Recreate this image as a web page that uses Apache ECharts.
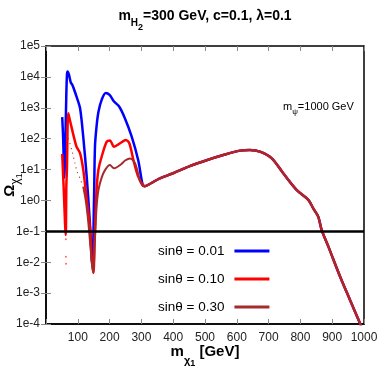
<!DOCTYPE html>
<html>
<head>
<meta charset="utf-8">
<script src="https://cdn.jsdelivr.net/npm/echarts@6/dist/echarts.min.js"></script>
<style>html,body{margin:0;padding:0;background:#fff}#c{width:382px;height:382px}</style>
</head>
<body>
<div id="c"></div>
<script>
// ---- data ----
const legendNames = ['sinθ = 0.01', 'sinθ = 0.10', 'sinθ = 0.30'];
const xTicks = [100, 200, 300, 400, 500, 600, 700, 800, 900, 1000];
const yTickExponents = [-4, -3, -2, -1, 0, 1, 2, 3, 4, 5];
const relicLine = 0.1;

// common high-mass tail (all three overlap)
const tailX = [311, 330, 358, 400, 450, 505, 560, 610, 641, 673, 710, 746, 788, 825, 840, 856, 867, 888, 925, 956, 987, 992];
const tailY = [2.9, 3.6, 5.2, 7.6, 12.6, 20, 30, 41, 43, 38, 23, 7.6, 2.2, 1.05, 0.56, 0.3, 0.11, 0.032, 0.0034, 0.0006, 0.000107, 0.00008];

// sinθ = 0.01
const blueX = [51, 54, 57.5, 61, 64, 66, 68, 72, 78, 83, 90, 96, 107, 117, 128, 138, 146, 151, 154, 159, 165, 175, 188, 200, 214, 230, 248, 269, 290, 304];
const blueY = [500, 100, 5.4, 100, 3000, 12000, 15000, 12000, 6500, 5500, 3500, 2300, 980, 118, 5.9, 0.19, 0.008, 1.05, 55, 250, 740, 1800, 3000, 2600, 1600, 1100, 460, 120, 20, 3.2];

// sinθ = 0.10
const redX = [51, 56, 62, 64, 66, 68, 70, 75, 81, 88, 96, 107, 117, 128, 138, 144, 149, 153, 159, 165, 175, 191, 201, 214, 233, 251, 262, 275, 290, 304];
const redY = [32, 2, 0.076, 3, 12, 300, 660, 400, 220, 110, 55, 34, 10, 1.1, 0.14, 0.012, 0.0045, 0.05, 2.2, 10, 26, 80, 87, 55, 71, 91, 71, 20, 5.9, 3.2];
const redDotsX = [62.5, 62.5, 63];
const redDotsY = [0.055, 0.015, 0.009];

// sinθ = 0.30
const brownDotX = [70, 81, 91, 98, 107, 114];
const brownDotY = [102, 43, 16, 8.5, 5.2, 3.2];
const brownX = [117, 125, 133, 140, 145, 149, 153, 159, 165, 175, 186, 201, 214, 233, 250, 264, 280, 296, 304];
const brownY = [2.8, 1.0, 0.2, 0.03, 0.008, 0.0045, 0.04, 0.6, 2.2, 5.5, 9.8, 14, 11, 14, 20, 23, 16, 4.1, 3.0];

const colors = ['#0000ff', '#ff0000', '#a52a2a'];

function pairs(xs, ys) { return xs.map((x, i) => [x, ys[i]]); }
function withTail(xs, ys) { return pairs(xs, ys).concat(pairs(tailX, tailY)); }

const FONT = '"Liberation Sans", Arial, sans-serif';

const chart = echarts.init(document.getElementById('c'), null, { renderer: 'canvas' });
const option = {
  animation: false,
  backgroundColor: '#fff',
  grid: { left: 46, right: 18, top: 46, bottom: 58, outerBoundsMode: 'none', containLabel: false, show: true, borderColor: '#000', borderWidth: 1.5, backgroundColor: 'transparent' },
  graphic: [
    {
      type: 'text', x: 205, y: 6,
      style: {
        text: '{m|m}{s|H}{ss|2}{m|=300 GeV, c=0.1, λ=0.1}',
        textAlign: 'center',
        rich: {
          m: { fontSize: 14, fontWeight: 'bold', fontFamily: FONT, fill: '#000', verticalAlign: 'top', lineHeight: 26, padding: [3, 0, 0, 0] },
          s: { fontSize: 10, fontWeight: 'bold', fontFamily: FONT, fill: '#000', verticalAlign: 'bottom', lineHeight: 26, padding: [0, 0, 4, 0] },
          ss: { fontSize: 9, fontWeight: 'bold', fontFamily: FONT, fill: '#000', verticalAlign: 'bottom', lineHeight: 26 }
        }
      }
    },
    {
      type: 'text', x: 283, y: 101,
      style: {
        text: '{m|m}{s|ψ}{m|=1000 GeV}',
        rich: {
          m: { fontSize: 11, fontFamily: FONT, fill: '#000', verticalAlign: 'top', lineHeight: 15 },
          s: { fontSize: 8, fontFamily: FONT, fill: '#000', verticalAlign: 'bottom', lineHeight: 15 }
        }
      }
    }
  ],
  legend: {
    data: legendNames,
    orient: 'vertical',
    left: 153, top: 239,
    align: 'right',
    icon: 'rect',
    itemWidth: 35, itemHeight: 3,
    itemGap: 14,
    textStyle: { fontSize: 13.5, fontFamily: FONT, color: '#000', padding: [0, 5, 0, 0] }
  },
  xAxis: [{
    type: 'value', min: 0, max: 1000, interval: 100,
    name: '{m|m}{s|χ}{ss|1}{m| [GeV]}',
    nameLocation: 'middle', nameGap: 20, nameMoveOverlap: false,
    nameTextStyle: {
      rich: {
        m: { fontSize: 15, fontWeight: 'bold', fontFamily: FONT, color: '#000', verticalAlign: 'top', lineHeight: 24 },
        s: { fontSize: 11, fontWeight: 'bold', fontFamily: FONT, color: '#000', verticalAlign: 'bottom', lineHeight: 24, padding: [0, 0, 2, 0] },
        ss: { fontSize: 9, fontWeight: 'bold', fontFamily: FONT, color: '#000', verticalAlign: 'bottom', lineHeight: 24 }
      }
    },
    axisLine: { show: true, lineStyle: { color: '#000', width: 1.5 } },
    axisTick: { show: true, inside: true, length: 5, lineStyle: { color: '#888' } },
    axisLabel: {
      fontSize: 12, fontFamily: FONT, color: '#222', margin: 8,
      formatter: v => (xTicks.indexOf(v) >= 0 ? String(v) : '')
    },
    splitLine: { show: false }
  }, {
    type: 'value', min: 0, max: 1000, interval: 100, position: 'top',
    axisLine: { show: false },
    axisTick: { show: true, inside: true, length: 5, lineStyle: { color: '#888' } },
    axisLabel: { show: false },
    splitLine: { show: false }
  }],
  yAxis: [{
    type: 'log', logBase: 10, min: 1e-4, max: 1e5,
    name: '{m|Ω}{s|χ}{ss|1}',
    nameLocation: 'middle', nameRotate: 90, nameGap: 22, nameMoveOverlap: false,
    nameTextStyle: {
      rich: {
        m: { fontSize: 15, fontWeight: 'bold', fontFamily: FONT, color: '#000', verticalAlign: 'top', lineHeight: 22 },
        s: { fontSize: 12, fontFamily: FONT, color: '#000', verticalAlign: 'bottom', lineHeight: 22, padding: [0, 0, 2, 0] },
        ss: { fontSize: 9, fontFamily: FONT, color: '#000', verticalAlign: 'bottom', lineHeight: 22 }
      }
    },
    axisLine: { show: true, lineStyle: { color: '#000', width: 1.5 } },
    axisTick: { show: true, inside: true, length: 5, lineStyle: { color: '#888' } },
    minorTick: { show: false },
    axisLabel: {
      fontSize: 12, fontFamily: FONT, color: '#222', margin: 6,
      formatter: v => {
        const e = Math.round(Math.log10(v));
        return yTickExponents.indexOf(e) >= 0 ? '1e' + e : '';
      }
    },
    splitLine: { show: false }
  }, {
    type: 'log', logBase: 10, min: 1e-4, max: 1e5, position: 'right',
    axisLine: { show: false },
    axisTick: { show: true, inside: true, length: 5, lineStyle: { color: '#888' } },
    axisLabel: { show: false },
    splitLine: { show: false }
  }],
  series: [
    {
      name: legendNames[0], type: 'line', data: withTail(blueX, blueY), showSymbol: false, symbol: 'none',
      smooth: 0.3, lineStyle: { color: colors[0], width: 2.5 }, itemStyle: { color: colors[0] }, z: 2,
      markLine: {
        silent: true, symbol: 'none', label: { show: false },
        lineStyle: { color: '#000', width: 2.5, type: 'solid' },
        data: [{ yAxis: relicLine }], z: 10
      }
    },
    {
      name: legendNames[1], type: 'line', data: withTail(redX, redY), showSymbol: false, symbol: 'none',
      smooth: 0.3, lineStyle: { color: colors[1], width: 2.5 }, itemStyle: { color: colors[1] }, z: 3
    },
    {
      name: 'redDots', type: 'scatter', data: pairs(redDotsX, redDotsY), symbolSize: 2,
      itemStyle: { color: colors[1], opacity: 0.6 }, z: 3
    },
    {
      name: legendNames[2], type: 'line', data: withTail(brownX, brownY), showSymbol: false, symbol: 'none',
      smooth: 0.3, lineStyle: { color: colors[2], width: 2 }, itemStyle: { color: colors[2] }, z: 4
    },
    {
      name: 'brownDotted', type: 'line', data: pairs(brownDotX, brownDotY), showSymbol: false, symbol: 'none',
      smooth: 0.3, lineStyle: { color: colors[2], width: 1.2, type: [1, 4] }, z: 4
    }
  ]
};
chart.setOption(option);
</script>
</body>
</html>
